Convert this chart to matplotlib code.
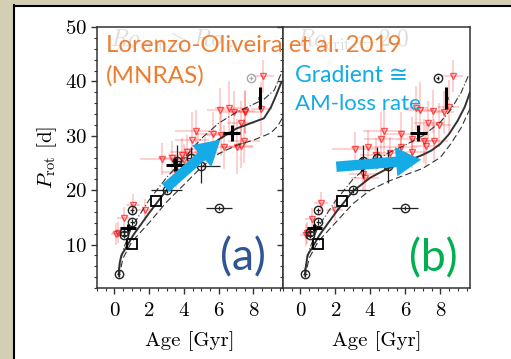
import numpy as np
import matplotlib.pyplot as plt
from matplotlib.patches import Rectangle
from matplotlib.ticker import MultipleLocator

plt.rcParams['font.family'] = 'cmr10'
plt.rcParams['mathtext.fontset'] = 'cm'
plt.rcParams['axes.formatter.use_mathtext'] = True

# observed stars (same in both panels)
circ_age = [0.25, 0.55, 0.55, 1.0, 1.0, 3.0, 3.6, 4.4, 5.0, 6.0]
circ_prot = [4.5, 11.7, 12.3, 14.1, 16.3, 20.0, 25.3, 26.0, 24.4, 16.7]
circ_xerr = [0.1, 0.1, 0.1, 0.1, 0.1, 0.9, 0.3, 0.3, 1.1, 0.75]
circ_yerr = [0.4, 0.5, 0.5, 0.5, 0.5, 0.5, 3.0, 2.0, 3.0, 0.3]
old_age, old_prot = 7.85, 40.6
sq_age = [1.0, 2.4]
sq_prot = [10.1, 18.0]
cr_age = [0.8, 3.5, 6.75, 8.35]
cr_prot = [13.1, 24.7, 30.5, 36.9]
cr_xerr = [0.45, 0.55, 0.5, 0.08]
cr_yerr = [0.6, 1.2, 1.5, 2.0]

# red triangles, panel (a)
tri_a_age = [8.57, 8.44, 7.52, 6.57, 6.1, 6.86, 7.49, 7.28, 4.67, 5.66, 6.15, 4.47, 7.45, 6.29, 7.05,
             7.3, 2.76, 4.19, 3.9, 4.8, 5.2, 3.56, 1.05, 0.57, 0.19, 0.1, 1.75, 4.0, 3.3]
tri_a_prot = [40.9, 34.9, 34.3, 35.1, 34.8, 34.3, 34.5, 32.4, 30.8, 30.4, 30.2, 29.3, 29.0, 27.9, 28.0,
              28.1, 25.7, 27.1, 26.5, 27.5, 26.8, 23.3, 17.2, 14.9, 12.2, 11.9, 16.3, 25.5, 26.0]
tri_a_xerr = [0.6, 0.6, 0.9, 0.8, 0.8, 0.7, 0.6, 0.8, 1.2, 1.0, 0.8, 1.0, 0.9, 0.8, 0.9,
              0.7, 1.3, 1.0, 0.8, 0.8, 1.0, 0.8, 0.4, 0.4, 0.3, 0.3, 0.5, 0.8, 0.8]
tri_a_yerr = [3, 5, 4, 5, 4, 4, 4, 4, 4, 4, 4, 5, 4, 4, 5,
              4, 3, 3, 3, 3, 3, 3, 2, 2, 2, 2, 2, 3, 3]

# red triangles, panel (b)
tri_b_age = [8.72, 8.47, 6.86, 7.58, 8.2, 7.3, 7.9, 6.6, 4.8, 5.77, 4.63, 6.4, 7.64, 7.2,
             3.1, 3.87, 5.1, 5.77, 6.4, 4.3, 3.6, 3.7, 1.17, 0.67, 0.4, 0.3, 1.95, 7.05]
tri_b_prot = [41.0, 35.2, 34.8, 34.5, 34.3, 32.4, 32.0, 35.1, 30.9, 30.4, 29.4, 29.4, 29.1, 28.2,
              27.6, 28.0, 26.8, 27.9, 27.1, 26.5, 23.0, 22.2, 17.6, 14.7, 12.1, 11.8, 16.4, 29.0]
tri_b_xerr = [0.6, 0.6, 0.8, 0.8, 0.6, 0.8, 0.7, 0.7, 1.2, 1.0, 1.0, 0.8, 0.8, 0.8,
              1.3, 1.0, 1.0, 0.9, 0.8, 0.9, 0.8, 0.8, 0.4, 0.4, 0.3, 0.3, 0.5, 0.8]
tri_b_yerr = [3, 5, 5, 4, 4, 4, 4, 4, 4, 4, 5, 4, 4, 4,
              3, 3, 3, 3, 3, 3, 3, 3, 2, 2, 2, 2, 2, 4]

# model tracks
mod_a_age = [0.25, 0.3, 0.4, 0.7, 1.1, 2.0, 3.0, 4.0, 5.0, 6.0, 7.0, 8.0, 8.6, 9.0, 9.3, 9.6]
mod_a_prot = [4.5, 6.5, 8.0, 9.6, 11.8, 15.8, 20.0, 23.4, 26.6, 29.3, 31.3, 32.5, 33.2, 35.2, 37.4, 39.8]
up_a_age = [0.25, 0.5, 1.0, 2.0, 3.0, 4.0, 5.0, 6.0, 7.0, 8.0, 8.6, 9.2, 9.6]
up_a_prot = [5.3, 9.0, 13.2, 18.2, 22.3, 25.8, 29.5, 32.3, 34.3, 35.8, 36.7, 38.4, 41.5]
lo_a_age = [0.25, 0.5, 1.0, 2.0, 3.0, 4.0, 5.0, 6.0, 7.0, 8.0, 9.0, 9.4, 9.7]
lo_a_prot = [4.0, 7.5, 10.5, 14.0, 17.8, 21.0, 24.2, 26.7, 28.2, 29.2, 30.5, 31.8, 33.5]

mod_b_age = [0.25, 0.4, 0.7, 1.1, 2.0, 3.0, 4.0, 5.0, 6.0, 7.0, 7.5, 8.0, 8.5, 9.0, 9.4, 9.7]
mod_b_prot = [4.5, 8.0, 9.6, 11.8, 15.8, 19.8, 22.3, 24.0, 25.2, 26.5, 27.3, 28.5, 30.3, 32.8, 35.3, 38.0]
up_b_age = [0.25, 0.5, 1.0, 2.0, 3.0, 4.0, 5.0, 6.0, 7.0, 8.0, 8.6, 9.2, 9.6]
up_b_prot = [5.3, 9.0, 13.2, 18.0, 22.0, 24.8, 26.8, 28.3, 30.0, 32.5, 34.8, 38.0, 41.0]
lo_b_age = [0.25, 0.5, 1.0, 2.0, 3.0, 4.0, 5.0, 6.0, 7.0, 8.0, 8.6, 9.2, 9.7]
lo_b_prot = [4.0, 7.5, 10.5, 14.0, 17.5, 20.0, 21.6, 22.8, 24.0, 26.0, 28.5, 31.5, 35.0]

W, H = 511, 359
fig = plt.figure(figsize=(W / 100, H / 100), dpi=100)
fig.patch.set_facecolor('white')

# slide background strips
tex = '#d2cfb4'
fig.patches.append(Rectangle((0, 0), 13 / W, 1, transform=fig.transFigure, color=tex, zorder=0))
fig.patches.append(Rectangle((0, 1 - 5 / H), 1, 5 / H, transform=fig.transFigure, color=tex, zorder=0))
fig.add_artist(plt.Line2D([14 / W, 14 / W], [0, 1 - 5 / H], color='black', lw=1.5))
fig.add_artist(plt.Line2D([14 / W, 1], [1 - 5.5 / H, 1 - 5.5 / H], color='black', lw=1.5))

ax1 = fig.add_axes([97 / W, 71 / H, 186 / W, 261 / H])
ax2 = fig.add_axes([283 / W, 71 / H, 187 / W, 261 / H])


def draw_panel(ax, tri_age, tri_prot, tri_xerr, tri_yerr, m_age, m_prot, u_age, u_prot, l_age, l_prot, old_col):
    ax.errorbar(tri_age, tri_prot, xerr=tri_xerr, yerr=tri_yerr, fmt='v', ms=5, mfc='none',
                mec=(1, 0, 0, 0.65), ecolor=(1, 0, 0, 0.22), elinewidth=1.2, capsize=0, zorder=2)
    ax.plot(m_age, m_prot, color='#333333', lw=1.4, zorder=3)
    ax.plot(u_age, u_prot, color='#333333', lw=0.8, ls=(0, (6, 2, 1, 2)), zorder=3)
    ax.plot(l_age, l_prot, color='#333333', lw=0.8, ls=(0, (6, 3)), zorder=3)
    ax.errorbar(circ_age, circ_prot, xerr=circ_xerr, yerr=circ_yerr, fmt='o', ms=6, mfc='none',
                mec='#222222', ecolor='#222222', elinewidth=0.9, capsize=0, zorder=4)
    ax.errorbar([old_age], [old_prot], xerr=[0.1], yerr=[0.3], fmt='o', ms=6, mfc='none',
                mec=old_col, ecolor=old_col, elinewidth=0.9, capsize=0, zorder=4)
    ax.plot(sq_age, sq_prot, 's', ms=7, mfc='none', mec='black', mew=1.3, zorder=4)
    ax.errorbar(cr_age, cr_prot, xerr=cr_xerr, yerr=cr_yerr, fmt='none', ecolor='black',
                elinewidth=2.2, capsize=0, zorder=5)
    ax.set_xlim(-1, 9.7)
    ax.set_ylim(2, 50)
    ax.xaxis.set_major_locator(MultipleLocator(2))
    ax.xaxis.set_minor_locator(MultipleLocator(0.5))
    ax.yaxis.set_major_locator(MultipleLocator(10))
    ax.yaxis.set_minor_locator(MultipleLocator(2))
    ax.tick_params(which='both', direction='out', labelsize=15, color='#333333')
    ax.tick_params(which='major', length=4, width=1)
    ax.tick_params(axis='x', which='major', pad=6)
    ax.tick_params(which='minor', length=2.5, width=0.8)
    for s in ax.spines.values():
        s.set_color('#333333')
        s.set_linewidth(1.1)
    ax.set_xlabel('Age [Gyr]', fontsize=15, labelpad=8)


draw_panel(ax1, tri_a_age, tri_a_prot, tri_a_xerr, tri_a_yerr, mod_a_age, mod_a_prot,
           up_a_age, up_a_prot, lo_a_age, lo_a_prot, '#aaaaaa')
draw_panel(ax2, tri_b_age, tri_b_prot, tri_b_xerr, tri_b_yerr, mod_b_age, mod_b_prot,
           up_b_age, up_b_prot, lo_b_age, lo_b_prot, '#222222')
ax1.set_ylabel(r'$P_{\rm rot}$ [d]', fontsize=15, labelpad=4)
ax2.tick_params(labelleft=False)

ax1.text(0.07, 0.995, r'$Ro_{\rm crit} > Ro_\odot$', transform=ax1.transAxes, color='#dddddd',
         fontsize=17, va='top', zorder=1)
ax2.text(0.07, 0.995, r'$Ro_{\rm crit} = 2.0$', transform=ax2.transAxes, color='#dddddd',
         fontsize=17, va='top', zorder=1)

# slide arrows
arrow_col = '#14ABE6'
for ax, start, end in [(ax1, (2.95, 20.4), (6.1, 29.3)), (ax2, (2.05, 24.3), (6.9, 25.6))]:
    ax.annotate('', xy=end, xytext=start, annotation_clip=False, zorder=10,
                arrowprops=dict(arrowstyle='simple,head_length=1.8,head_width=2.1,tail_width=0.75',
                                mutation_scale=10, color=arrow_col, lw=0, shrinkA=0, shrinkB=0))

# slide text
sans = ['Lato', 'DejaVu Sans']
fig.text(106 / W, 1 - 45 / H, 'Lorenzo-Oliveira et al. 2019', color='#ED7D31', fontsize=17.3,
         family=sans, va='center', zorder=20)
fig.text(106 / W, 1 - 76 / H, '(MNRAS)', color='#ED7D31', fontsize=17.5, family=sans,
         va='center', zorder=20)
fig.text(295 / W, 1 - 75 / H, 'Gradient ≅', color='#12ABE6', fontsize=16.5, family=sans,
         va='center', zorder=20)
fig.text(295 / W, 1 - 104 / H, 'AM-loss rate', color='#12ABE6', fontsize=16, family=sans,
         va='center', zorder=20)
fig.text(243 / W, 1 - 258 / H, '(a)', color='#2F5597', fontsize=32, family=sans,
         ha='center', va='center', zorder=20)
fig.text(433 / W, 1 - 259 / H, '(b)', color='#00B050', fontsize=32, family=sans,
         ha='center', va='center', zorder=20)

fig.savefig('out.png', dpi=100)
